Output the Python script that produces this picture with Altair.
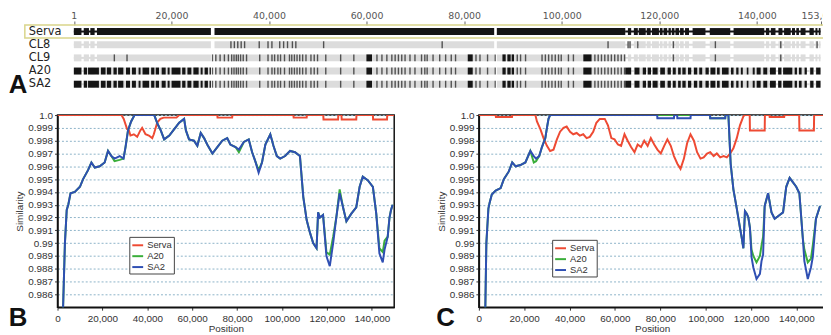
import altair as alt
import pandas as pd

# ---------------- Panel A : genome alignment overview (positions in kb) ----------------
ROWS = ["Serva", "CL8", "CL9", "A20", "SA2"]
RULER_TICKS = [1, 20000, 40000, 60000, 80000, 100000, 120000, 140000, 153052]

# aligned blocks (same layout for every row)
BLOCK_START = [0.0, 2.03, 3.38, 4.74, 28.83, 86.7, 113.57, 114.79, 115.8, 117.43, 118.51, 120.13,
               120.88, 121.89, 122.57, 123.31, 124.26, 125.28, 126.83, 130.35, 135.23, 141.86,
               142.87, 144.43, 145.58, 147.21, 148.09, 148.97, 150.79, 152.01, 152.69]
BLOCK_END = [1.56, 3.1, 4.26, 28.09, 86.16, 113.03, 114.24, 115.6, 117.22, 118.24, 119.93, 120.67,
             121.62, 122.37, 123.11, 124.06, 125.01, 126.09, 129.47, 134.55, 141.52, 142.54,
             143.82, 145.24, 146.94, 147.82, 148.63, 149.98, 151.67, 152.42, 153.05]
LINK_START = [0.0, 113.0]
LINK_END = [4.8, 153.05]

# variant blocks / sites
EARLY_START = [0.0, 2.03, 2.91, 5.55, 6.77, 8.12, 9.07, 10.69, 11.91, 13.27, 14.08, 15.84, 16.78,
               18.0, 19.22, 20.03, 22.2, 23.28, 24.5, 25.99, 26.8, 27.82]
EARLY_END = [1.56, 2.71, 5.14, 6.5, 7.65, 8.8, 10.15, 11.51, 12.72, 13.67, 15.43, 16.51, 17.46,
             18.82, 19.63, 21.86, 22.88, 24.09, 25.58, 26.4, 27.48, 28.09]
MID_TICKS = [28.43, 29.1, 29.98, 30.86, 31.68, 32.35, 32.83, 33.3, 33.71, 34.18, 34.72, 35.4, 38.1,
             39.8, 40.61, 41.15, 41.83, 42.37, 43.18, 44.2, 44.67, 45.21, 45.75, 46.3, 46.9, 47.58,
             48.6, 49.27, 49.95, 51.64, 54.69, 57.39, 62.13, 63.15, 64.16, 65.18, 65.86, 66.53,
             67.21, 67.89, 68.9, 69.92, 71.27, 71.94, 72.42, 73.63, 74.99, 76.21, 77.36, 78.24,
             82.43, 83.25, 84.8, 86.36, 90.89, 91.57, 92.59, 95.97, 96.65, 97.32, 98.0, 98.68,
             99.35, 99.9, 101.38, 102.4, 106.8, 107.48, 108.15, 108.83, 109.51, 110.18, 110.86,
             111.54, 112.21, 112.89]
MID_BLOCK_START = [59.97, 80.74, 87.85, 88.86, 89.74, 104.43]
MID_BLOCK_END = [61.12, 81.76, 88.52, 89.54, 90.22, 106.12]
LATE_START = [113.03, 114.92, 116.61, 117.63, 118.64, 120.2, 121.69, 122.77, 123.86, 124.73, 125.89,
              127.1, 128.19, 129.47, 130.49, 131.84, 132.86, 134.68, 135.77, 136.72, 137.93, 139.15,
              139.96, 141.32, 142.67, 144.36, 145.38, 147.75, 148.63, 149.78, 150.93, 152.15]
LATE_END = [114.24, 115.94, 117.29, 118.31, 119.66, 121.15, 122.37, 123.38, 124.4, 125.41, 126.56,
            127.78, 128.8, 130.15, 131.5, 132.38, 134.21, 135.23, 136.24, 137.12, 138.27, 139.56,
            140.78, 142.13, 143.89, 145.04, 147.27, 148.22, 149.17, 150.25, 151.61, 153.05]
CL8_TICKS = [32.2, 32.9, 33.6, 34.3, 35.0, 38.0, 39.8, 40.6, 42.2, 43.0, 43.8, 44.8, 45.5, 51.2,
             75.5, 109.5, 113.6, 114.0, 115.6, 122.9, 131.5, 144.9, 152.35]
CL9_EXTRA_TICKS = [8.3, 10.9, 122.9, 131.5, 144.9]

# ---------------- Panels B / C : similarity plots ----------------
X_TICKS = [0, 20000, 40000, 60000, 80000, 100000, 120000, 140000]
Y_TICKS = [0.986, 0.987, 0.988, 0.989, 0.99, 0.991, 0.992, 0.993, 0.994, 0.995, 0.996, 0.997,
           0.998, 0.999, 1.0]
SERIES = ["Serva", "A20", "SA2"]
SERIES_COLORS = ["#ee4a33", "#3aae3a", "#2f4fb3"]

B_POS = [2.4, 3.3, 4.1, 4.8, 5.8, 7.7, 10.0, 11.4, 13.6, 15.1, 16.6, 18.8, 21.0, 22.5, 24.0, 25.4,
         27.7, 29.4, 30.3, 31.4, 32.8, 34.3, 43.1, 44.6, 46.0, 47.5, 49.8, 52.0, 54.2, 56.4, 57.2,
         58.6, 60.8, 62.3, 63.8, 65.3, 66.7, 69.0, 71.2, 73.4, 75.6, 77.0, 79.3, 80.8, 83.0, 85.2,
         86.7, 88.1, 89.6, 91.1, 92.6, 94.8, 96.2, 97.7, 99.2, 101.4, 103.6, 105.8, 108.0, 109.5,
         111.0, 112.5, 113.9, 115.4, 116.1, 116.9, 118.3, 119.8, 121.3, 122.8, 124.2, 125.7, 127.2,
         128.7, 130.9, 133.1, 134.6, 136.0, 138.3, 140.5, 142.0, 143.4, 144.9, 145.7, 147.1, 147.9,
         148.6, 149.3]
B_SA2 = [0.9845, 0.9900, 0.9926, 0.9930, 0.9939, 0.9940, 0.9944, 0.9950, 0.9957, 0.9963, 0.9959,
         0.9960, 0.9963, 0.9972, 0.9968, 0.9966, 0.9968, 0.9966, 0.9975, 0.9988, 0.9995, 1.0, 1.0,
         0.9993, 0.9988, 0.9981, 0.9984, 0.9989, 0.9994, 0.9997, 0.9988, 0.9981, 0.9980, 0.9976,
         0.9986, 0.9982, 0.9977, 0.9970, 0.9975, 0.9980, 0.9982, 0.9977, 0.9975, 0.9973, 0.9979,
         0.9981, 0.9971, 0.9964, 0.9955, 0.9963, 0.9977, 0.9985, 0.9976, 0.9968, 0.9966, 0.9968,
         0.9972, 0.9971, 0.9968, 0.9936, 0.9918, 0.9908, 0.9900, 0.9896, 0.9924, 0.9920, 0.9922,
         0.9890, 0.9882, 0.9900, 0.9920, 0.9939, 0.9928, 0.9917, 0.9923, 0.9928, 0.9944, 0.9952,
         0.9949, 0.9944, 0.9923, 0.9892, 0.9885, 0.9895, 0.9905, 0.9920, 0.9926, 0.9930]
B_A20 = [0.9845, 0.9900, 0.9926, 0.9930, 0.9939, 0.9940, 0.9944, 0.9950, 0.9957, 0.9963, 0.9959,
         0.9960, 0.9963, 0.9972, 0.9968, 0.9964, 0.9965, 0.9966, 0.9975, 0.9988, 0.9995, 1.0, 1.0,
         0.9993, 0.9988, 0.9981, 0.9984, 0.9989, 0.9994, 0.9997, 0.9988, 0.9981, 0.9980, 0.9976,
         0.9986, 0.9982, 0.9977, 0.9970, 0.9975, 0.9980, 0.9982, 0.9977, 0.9975, 0.9971, 0.9979,
         0.9981, 0.9971, 0.9964, 0.9957, 0.9963, 0.9977, 0.9985, 0.9976, 0.9968, 0.9966, 0.9968,
         0.9972, 0.9971, 0.9968, 0.9936, 0.9918, 0.9908, 0.9900, 0.9896, 0.9924, 0.9920, 0.9922,
         0.9893, 0.9891, 0.9905, 0.9920, 0.9942, 0.9928, 0.9917, 0.9923, 0.9928, 0.9944, 0.9952,
         0.9949, 0.9944, 0.9923, 0.9896, 0.9893, 0.9902, 0.9905, 0.9920, 0.9926, 0.9930]
B_SERVA_POS = [0, 28.5, 29.5, 31.0, 31.8, 32.5, 34.0, 35.5, 36.9, 37.7, 39.2, 40.7, 42.2, 42.9, 44.4,
               45.8, 47.3, 53.0, 54.2, 71.2, 71.3, 77.8, 77.9, 105.1, 105.2, 111.0, 111.1, 118.4,
               118.5, 125.0, 125.1, 126.5, 126.6, 133.1, 133.2, 140.5, 140.6, 146.8, 146.9, 150.0]
B_SERVA = [1.0, 1.0, 0.9997, 0.9989, 0.9988, 0.9984, 0.9985, 0.9983, 0.9988, 0.9990, 0.9985, 0.9984,
           0.9982, 0.9985, 0.9994, 0.9997, 0.9998, 0.9998, 1.0, 1.0, 0.9998, 0.9998, 1.0, 1.0,
           0.9998, 0.9998, 1.0, 1.0, 0.99965, 0.99965, 1.0, 1.0, 0.99965, 0.99965, 1.0, 1.0,
           0.99965, 0.99965, 1.0, 1.0]

C_POS = [2.8, 3.3, 4.2, 4.8, 5.7, 7.4, 9.6, 11.0, 13.2, 14.7, 16.2, 18.3, 20.5, 22.7, 24.2, 25.2,
         26.6, 27.8, 29.3, 30.0, 30.7, 31.4, 78.6, 78.7, 86.0, 86.1, 87.4, 87.5, 93.3, 93.4, 101.9,
         102.0, 108.6, 108.7, 110.0, 111.0, 112.2, 113.7, 115.1, 115.9, 116.6, 117.3, 118.1, 118.8,
         119.5, 120.2, 121.0, 122.4, 123.9, 124.6, 125.3, 126.0, 127.5, 129.0, 130.4, 132.6, 134.1,
         135.5, 137.0, 139.9, 141.3, 142.8, 143.5, 145.0, 146.4, 147.2, 148.6, 150.4]
C_SA2 = [0.9845, 0.9900, 0.9927, 0.9932, 0.9938, 0.9941, 0.9943, 0.9950, 0.9956, 0.9963, 0.9960,
         0.9961, 0.9963, 0.9972, 0.9968, 0.9966, 0.9968, 0.9975, 0.9982, 0.9990, 0.9997, 1.0, 1.0,
         0.99975, 0.99975, 1.0, 1.0, 0.99975, 0.99975, 1.0, 1.0, 0.99975, 0.99975, 1.0, 1.0,
         0.9962, 0.9942, 0.9927, 0.9912, 0.9904, 0.9896, 0.9925, 0.9923, 0.9920, 0.9912, 0.9889,
         0.9881, 0.9872, 0.9876, 0.9886, 0.9891, 0.9929, 0.9939, 0.9924, 0.9919, 0.9922, 0.9924,
         0.9944, 0.9951, 0.9944, 0.9939, 0.9904, 0.9886, 0.9872, 0.9881, 0.9889, 0.9919, 0.9929]
C_A20 = [0.9845, 0.9900, 0.9927, 0.9932, 0.9938, 0.9941, 0.9943, 0.9950, 0.9956, 0.9963, 0.9960,
         0.9961, 0.9963, 0.9972, 0.9963, 0.9964, 0.9968, 0.9975, 0.9982, 0.9990, 0.9997, 1.0, 1.0,
         1.0, 1.0, 1.0, 1.0, 1.0, 1.0, 1.0, 1.0, 0.99975, 0.99975, 1.0, 1.0,
         0.9962, 0.9942, 0.9927, 0.9912, 0.9904, 0.9896, 0.9925, 0.9923, 0.9920, 0.9912, 0.9895,
         0.9890, 0.9885, 0.9890, 0.9898, 0.9905, 0.9929, 0.9939, 0.9924, 0.9919, 0.9922, 0.9924,
         0.9944, 0.9951, 0.9944, 0.9939, 0.9904, 0.9895, 0.9885, 0.9888, 0.9898, 0.9919, 0.9929]
C_SERVA_POS = [0, 7.4, 7.5, 14.6, 14.7, 24.9, 25.6, 27.1, 28.5, 30.0, 31.4, 32.9, 34.4, 35.8, 37.3,
               38.7, 40.2, 41.6, 43.1, 44.5, 46.0, 47.5, 48.9, 50.4, 51.8, 53.3, 55.5, 56.9, 58.4,
               59.8, 61.3, 62.7, 64.2, 65.6, 67.1, 68.6, 70.0, 71.5, 72.9, 74.4, 75.8, 77.3, 78.7,
               80.2, 81.7, 83.1, 84.6, 86.0, 87.5, 88.9, 90.4, 91.8, 93.3, 94.8, 96.2, 97.7, 99.1,
               100.6, 102.0, 103.5, 104.9, 106.4, 107.9, 109.3, 110.8, 112.2, 113.7, 115.1, 116.6,
               117.3, 119.4, 119.5, 126.0, 126.1, 128.1, 128.2, 134.6, 134.7, 141.2, 141.3, 147.7,
               147.8, 152.0]
C_SERVA = [1.0, 1.0, 0.99985, 0.99985, 1.0, 1.0, 0.9995, 0.9989, 0.9982, 0.9976, 0.9972, 0.9973,
           0.9981, 0.9987, 0.9990, 0.9991, 0.9987, 0.9985, 0.9986, 0.9984, 0.9985, 0.9982, 0.9983,
           0.9987, 0.9994, 0.9997, 0.9997, 0.9992, 0.9982, 0.9981, 0.9977, 0.9976, 0.9985, 0.9980,
           0.9975, 0.9971, 0.9977, 0.9975, 0.9980, 0.9976, 0.9982, 0.9977, 0.9973, 0.9970, 0.9976,
           0.9981, 0.9976, 0.9968, 0.9962, 0.9958, 0.9966, 0.9978, 0.9985, 0.9980, 0.9971, 0.9966,
           0.9967, 0.9970, 0.9971, 0.9968, 0.9970, 0.9967, 0.9968, 0.9967, 0.9970, 0.9974, 0.9982,
           0.9992, 0.9999, 1.0, 1.0, 0.9988, 0.9988, 1.0, 1.0, 0.99985, 0.99985, 1.0, 1.0, 0.9988,
           0.9988, 1.0, 1.0]

FONT = "Liberation Sans"
COMMA = "format(datum.value, ',')"

# ======================= Panel A =======================
def seg_df(rows, starts, ends):
    recs = []
    for r in rows:
        for s, e in zip(starts, ends):
            recs.append({"row": r, "s": s * 1000, "e": e * 1000})
    return pd.DataFrame(recs)


def tick_df(pairs):
    recs = []
    for r, ticks in pairs:
        for t in ticks:
            recs.append({"row": r, "p": t * 1000})
    return pd.DataFrame(recs)


xA = alt.Scale(domain=[1, 153052], range=[16.5, 770.5], nice=False, zero=False)
yA = alt.Scale(domain=ROWS, paddingInner=0, paddingOuter=0)
ruler_axis = alt.Axis(orient="top", values=RULER_TICKS, labelExpr=COMMA, title=None, domain=False,
                      grid=False, tickSize=4, tickColor="#666", labelPadding=0, labelFlush=False,
                      labelOverlap=False, labelBound=False, labelFont="DejaVu Sans", labelFontSize=9.5,
                      labelColor="#555")
row_axis = alt.Axis(orient="left", title=None, domain=False, ticks=False, tickSize=0,
                    labelAlign="left", labelPadding=29.5, labelFont="DejaVu Sans", labelFontSize=11.5,
                    labelColor="#222", labelBaseline="middle")

def xa(field):
    return alt.X(field, type="quantitative", scale=xA, axis=ruler_axis)

def ya():
    return alt.Y("row:N", scale=yA, axis=row_axis, sort=ROWS)

highlight = alt.Chart(pd.DataFrame({"row": ["Serva"]})).mark_rect(
    filled=False, stroke="#d9d58a", strokeWidth=1.5
).encode(y=ya(), x=alt.value(-33), x2=alt.value(778))

links_gray = alt.Chart(seg_df(ROWS[1:], LINK_START, LINK_END)).mark_bar(size=2, color="#dcdcdc").encode(
    x=xa("s"), x2="e", y=ya())
links_black = alt.Chart(seg_df(["Serva"], LINK_START, LINK_END)).mark_bar(size=2, color="#151515").encode(
    x=xa("s"), x2="e", y=ya())
bg_gray = alt.Chart(seg_df(ROWS[1:], BLOCK_START, BLOCK_END)).mark_bar(size=7, color="#dcdcdc").encode(
    x=xa("s"), x2="e", y=ya())
serva_bar = alt.Chart(seg_df(["Serva"], BLOCK_START, BLOCK_END)).mark_bar(size=7, color="#151515").encode(
    x=xa("s"), x2="e", y=ya())

vb = pd.concat([
    seg_df(["A20", "SA2"], EARLY_START, EARLY_END),
    seg_df(["CL9", "A20", "SA2"], MID_BLOCK_START, MID_BLOCK_END),
    seg_df(["A20", "SA2"], LATE_START, LATE_END),
], ignore_index=True)
var_blocks = alt.Chart(vb).mark_bar(size=7, color="#151515").encode(x=xa("s"), x2="e", y=ya())

vt = tick_df([("CL8", CL8_TICKS), ("CL9", MID_TICKS + CL9_EXTRA_TICKS), ("A20", MID_TICKS),
              ("SA2", MID_TICKS)])
var_ticks = alt.Chart(vt).mark_tick(thickness=1.4, size=7, color="#151515").encode(
    x=xa("p"), y=ya())

letter_a = alt.Chart(pd.DataFrame({"t": ["A"]})).mark_text(
    align="left", baseline="alphabetic", font=FONT, fontSize=26, fontWeight="bold", color="#111"
).encode(text="t:N", x=alt.value(-49.2), y=alt.value(68.6))

panel_a = alt.layer(highlight, links_gray, bg_gray, links_black, serva_bar, var_blocks, var_ticks,
                    letter_a).properties(width=773, height=66.5)

# ======================= Panels B / C =======================
color_scale = alt.Scale(domain=SERIES, range=SERIES_COLORS)


def sim_panel(series, width, xmax, legend_x, legend_y, letter, letter_x):
    xs = alt.Scale(domain=[0, xmax], nice=False, zero=False)
    ys = alt.Scale(domain=[0.985, 1.0], nice=False, zero=False)
    xaxis = alt.Axis(values=X_TICKS, labelExpr=COMMA, title="Position", grid=False, domainColor="#111",
                     domainWidth=1.5, tickColor="#333", tickSize=3, labelFont=FONT, labelFontSize=10,
                     labelColor="#333", labelPadding=3, titleFont=FONT, titleFontSize=10,
                     titleFontWeight="normal", titleColor="#333", titlePadding=1, labelFlush=False)
    yaxis = alt.Axis(values=Y_TICKS, labelExpr="datum.value > 0.9995 ? '1.0' : format(datum.value, '.3~f')",
                     title="Similarity", grid=True, gridColor="#8db3c8", gridDash=[2, 2], gridWidth=1,
                     domainColor="#111", domainWidth=1.5, tickColor="#333", tickSize=3, labelFont=FONT,
                     labelFontSize=10, labelColor="#333", labelPadding=2, titleFont=FONT,
                     titleFontSize=10, titleFontWeight="normal", titleColor="#333", titlePadding=3)
    legend = alt.Legend(orient="none", legendX=legend_x, legendY=legend_y, title=None,
                        symbolType="stroke", symbolStrokeWidth=2, symbolSize=120, labelFont=FONT,
                        labelFontSize=9.5, labelColor="#333", strokeColor="#444", fillColor="white",
                        padding=2, rowPadding=0, labelOffset=3)
    layers = []
    for name, pos, val in series:
        df = pd.DataFrame({"pos": [p * 1000 for p in pos], "sim": val, "series": name})
        layers.append(alt.Chart(df).mark_line(strokeWidth=2, clip=True).encode(
            x=alt.X("pos:Q", scale=xs, axis=xaxis),
            y=alt.Y("sim:Q", scale=ys, axis=yaxis),
            color=alt.Color("series:N", scale=color_scale, legend=legend),
        ))
    lt = alt.Chart(pd.DataFrame({"t": [letter]})).mark_text(
        align="left", baseline="alphabetic", font=FONT, fontSize=26, fontWeight="bold", color="#111"
    ).encode(text="t:N", x=alt.value(letter_x), y=alt.value(213))
    layers.append(lt)
    return alt.layer(*layers).properties(
        width=width, height=194, view=alt.ViewBackground(stroke="#111", strokeWidth=1.5))


panel_b = sim_panel([("Serva", B_SERVA_POS, B_SERVA), ("A20", B_POS, B_A20), ("SA2", B_POS, B_SA2)],
                    340, 150000, 72.5, 123, "B", -49.2)
panel_c = sim_panel([("Serva", C_SERVA_POS, C_SERVA), ("A20", C_POS, C_A20), ("SA2", C_POS, C_SA2)],
                    350, 152800, 74, 126, "C", -43)

bottom = alt.hconcat(panel_b, panel_c, spacing=85.5, bounds="flush").resolve_scale(
    color="independent").resolve_legend(color="independent")

chart = alt.vconcat(panel_a, bottom, spacing=24, bounds="flush").properties(
    padding={"left": 0, "top": 0.5, "right": -18, "bottom": 0}
).configure_view(stroke="transparent")

chart.save("out.html", embed_options={"renderer": "svg", "actions": False})
